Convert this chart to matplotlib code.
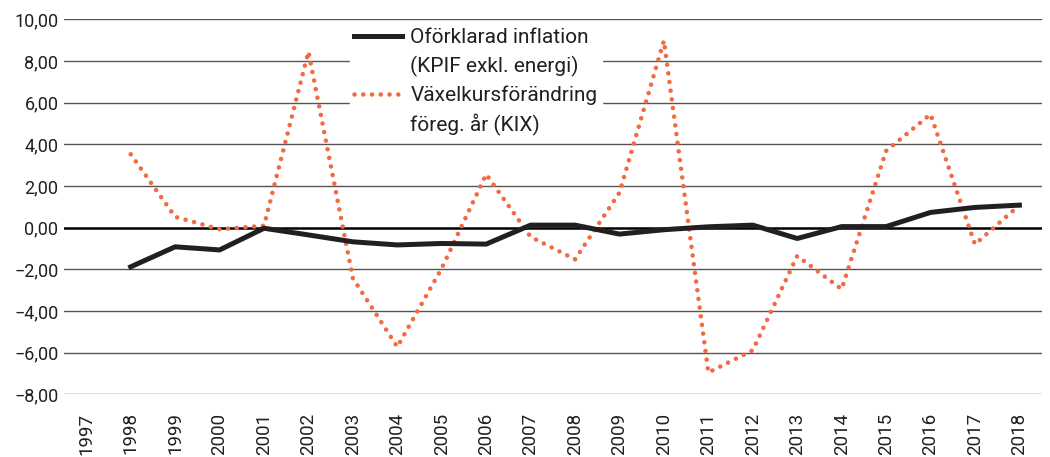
import numpy as np
import matplotlib.pyplot as plt
from matplotlib.lines import Line2D

plt.rcParams['font.family'] = ['Roboto', 'DejaVu Sans']

# data
years = [str(y) for y in range(1997, 2019)]
inflation_years = list(range(1998, 2019))
inflation = [-1.88, -0.92, -1.07, -0.03, -0.35, -0.68, -0.83, -0.76, -0.79, 0.12, 0.12,
             -0.31, -0.10, 0.04, 0.12, -0.52, 0.05, 0.05, 0.73, 0.97, 1.08]
kix = [3.52, 0.52, -0.08, 0.09, 8.44, -2.43, -5.72, -1.95, 2.56, -0.44, -1.52,
       1.68, 8.97, -6.95, -5.88, -1.36, -2.95, 3.68, 5.44, -0.80, 1.08]

label_infl = ["Oförklarad inflation", "(KPIF exkl. energi)"]
label_kix = ["Växelkursförändring", "föreg. år (KIX)"]

orange = '#F36A42'
dark = '#231f20'
dots = (0, (0.01, 1.9))

fig = plt.figure(figsize=(10.5, 4.57), dpi=100)
ax = fig.add_axes([0.061, 0.137, 0.931, 0.821])

xpos = [years.index(str(y)) for y in inflation_years]

for v in range(-8, 11, 2):
    if v == 0:
        continue
    ax.axhline(v, color='#555555', lw=1.0, zorder=1)
ax.axhline(0, color='black', lw=1.8, zorder=2)

ax.plot(xpos, kix, color=orange, lw=3.3, linestyle=dots, dash_capstyle='round',
        zorder=3)
ax.plot(xpos, inflation, color=dark, lw=3.6, solid_joinstyle='round', zorder=4)

ax.set_xlim(-0.5, len(years) - 0.5)
ax.set_ylim(-8, 10)
ax.set_yticks(range(-8, 11, 2))
ax.set_yticklabels([f"{v:.2f}".replace('.', ',').replace('-', '\u2212') for v in range(-8, 11, 2)],
                   fontsize=13, color=dark)
ax.set_xticks(range(len(years)))
ax.set_xticklabels(years, rotation=90, fontsize=13.5, color=dark)
ax.tick_params(length=0, axis='y', pad=4)
ax.tick_params(length=0, axis='x', pad=13)
for s in ax.spines.values():
    s.set_visible(False)

blank = Line2D([], [], color='none')
handles = [Line2D([], [], color=dark, lw=3.6), blank,
           Line2D([], [], color=orange, lw=3.3, linestyle=dots, dash_capstyle='round'),
           blank]
labels = [label_infl[0], label_infl[1], label_kix[0], label_kix[1]]
leg = ax.legend(handles, labels, loc='upper left',
                bbox_to_anchor=(350 / 1050, 1 - 24 / 457), bbox_transform=fig.transFigure,
                fontsize=15, frameon=True, fancybox=False, framealpha=1,
                edgecolor='white', facecolor='white', handlelength=2.3,
                handletextpad=0.4, labelspacing=0.42, borderpad=0.2, borderaxespad=0)
for t in leg.get_texts():
    t.set_color(dark)
leg.set_zorder(5)

fig.savefig('out.png', dpi=100)
